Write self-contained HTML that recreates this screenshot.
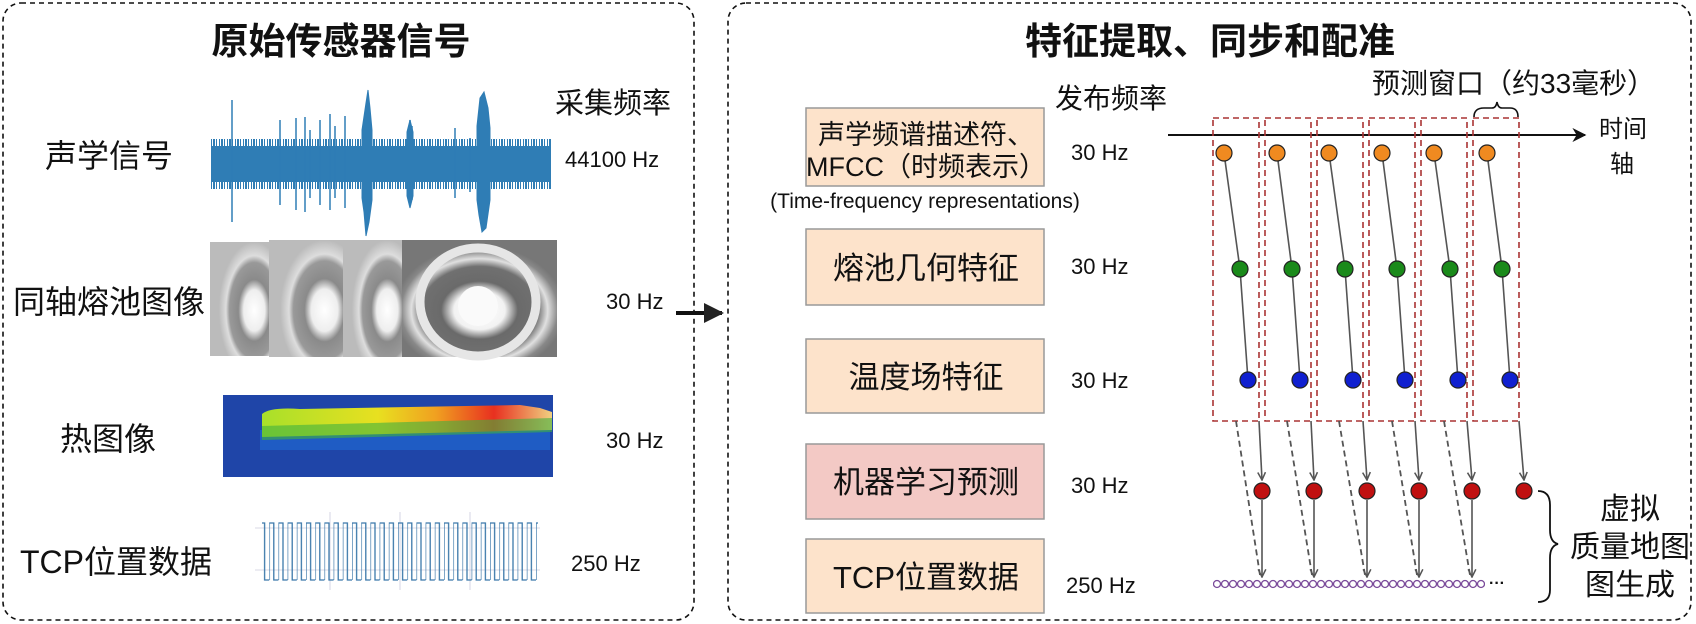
<!DOCTYPE html>
<html><head><meta charset="utf-8"><style>
html,body{margin:0;padding:0;background:#fff;}
svg{display:block;}
text{font-family:"Liberation Sans","Noto Sans CJK SC",sans-serif;fill:#111;}
</style></head><body>
<svg width="1696" height="624" viewBox="0 0 1696 624" xmlns="http://www.w3.org/2000/svg">
<defs>
<marker id="ah" viewBox="0 0 10 10" refX="9" refY="5" markerWidth="7" markerHeight="7" orient="auto"><path d="M0,0 L10,5 L0,10 L3,5 z" fill="#111"/></marker>
<marker id="ag" viewBox="0 0 10 10" refX="9" refY="5" markerWidth="6" markerHeight="6" orient="auto"><path d="M1,1 L9,5 L1,9" fill="none" stroke="#555" stroke-width="1.6"/></marker>
<marker id="ak" viewBox="0 0 10 10" refX="9" refY="5" markerWidth="5" markerHeight="5" orient="auto"><path d="M0,0 L10,5 L0,10 z" fill="#222"/></marker>
<pattern id="sq" x="260" y="515" width="9.2" height="75" patternUnits="userSpaceOnUse">
<path d="M0,65 L0,8 L4.6,8 L4.6,65 L9.2,65" fill="none" stroke="#3b78aa" stroke-width="1.3"/>
</pattern>
<pattern id="ch" x="1213" y="574" width="8" height="20" patternUnits="userSpaceOnUse">
<circle cx="4" cy="10" r="3.5" fill="#fff" stroke="#7a4a9a" stroke-width="1.3"/>
</pattern>
<radialGradient id="mp1" cx="0.75" cy="0.6" r="0.6"><stop offset="0" stop-color="#fff"/><stop offset="0.3" stop-color="#eee"/><stop offset="0.45" stop-color="#8a8a8a"/><stop offset="0.7" stop-color="#999"/><stop offset="0.8" stop-color="#ddd"/><stop offset="1" stop-color="#bbb"/></radialGradient>
<radialGradient id="mp4" cx="0.5" cy="0.6" r="0.55"><stop offset="0" stop-color="#fff"/><stop offset="0.3" stop-color="#f2f2f2"/><stop offset="0.45" stop-color="#6a6a6a"/><stop offset="0.68" stop-color="#707070"/><stop offset="0.8" stop-color="#e0e0e0"/><stop offset="0.92" stop-color="#888"/><stop offset="1" stop-color="#777"/></radialGradient>
<linearGradient id="heat" x1="0" x2="1" y1="0" y2="0"><stop offset="0" stop-color="#a8e02a"/><stop offset="0.4" stop-color="#e8e020"/><stop offset="0.6" stop-color="#f0a020"/><stop offset="0.8" stop-color="#e83020"/><stop offset="1" stop-color="#f0d080"/></linearGradient>
</defs>

<rect x="3" y="3" width="691" height="617" rx="18" fill="none" stroke="#111" stroke-width="1.6" stroke-dasharray="5,4"/>
<rect x="728" y="3" width="963" height="617" rx="18" fill="none" stroke="#111" stroke-width="1.6" stroke-dasharray="5,4"/>
<text x="341" y="54" font-size="37" font-weight="bold" text-anchor="middle">原始传感器信号</text>
<text x="1210" y="54" font-size="37" font-weight="bold" text-anchor="middle">特征提取、同步和配准</text>
<line x1="676" y1="313" x2="722" y2="313" stroke="#111" stroke-width="4" marker-end="url(#ak)"/>

<text x="45" y="167" font-size="32">声学信号</text>
<text x="13" y="313" font-size="32">同轴熔池图像</text>
<text x="60" y="450" font-size="32">热图像</text>
<text x="20" y="573" font-size="32">TCP位置数据</text>
<text x="555" y="113" font-size="29">采集频率</text>
<text x="565" y="167" font-size="22">44100 Hz</text>
<text x="606" y="309" font-size="22">30 Hz</text>
<text x="606" y="448" font-size="22">30 Hz</text>
<text x="571" y="571" font-size="22">250 Hz</text>

<!-- waveform -->
<g fill="#2f7db5" stroke="#2f7db5">
<rect x="211" y="146" width="340" height="36" stroke="none"/>
<path d="M211,143 L551,143 M211,185 L551,185" stroke-width="8" stroke-dasharray="1,1,2,1,1,2"/>
<g stroke-width="1.5">
<line x1="232" y1="100" x2="232" y2="222"/><line x1="280" y1="120" x2="280" y2="205"/><line x1="296" y1="118" x2="296" y2="210"/>
<line x1="305" y1="117" x2="305" y2="212"/><line x1="310" y1="130" x2="310" y2="198"/><line x1="320" y1="120" x2="320" y2="205"/>
<line x1="330" y1="114" x2="330" y2="210"/><line x1="335" y1="126" x2="335" y2="198"/><line x1="345" y1="116" x2="345" y2="208"/>
<line x1="366" y1="110" x2="366" y2="214"/><line x1="410" y1="120" x2="410" y2="205"/><line x1="412" y1="126" x2="412" y2="200"/>
<line x1="455" y1="128" x2="455" y2="198"/><line x1="470" y1="138" x2="470" y2="192"/>
</g>
<path d="M362,130 L366,103 L368,90 L370,108 L372,130 L372,200 L369,222 L366,236 L364,212 L362,198 z"/>
<path d="M407,132 L410,120 L413,132 L413,196 L410,208 L407,196 z"/>
<path d="M477,126 L480,98 L484,92 L488,108 L490,128 L490,200 L486,228 L482,232 L479,215 L477,200 z"/>
</g>

<rect x="210" y="242" width="59" height="114" fill="url(#mp1)"/>
<rect x="269" y="240" width="74" height="117" fill="url(#mp1)"/>
<rect x="343" y="240" width="59" height="117" fill="url(#mp1)"/>
<rect x="402" y="240" width="155" height="117" fill="url(#mp4)"/>
<ellipse cx="478" cy="302" rx="58" ry="54" fill="none" stroke="#e6e6e6" stroke-width="9"/>
<circle cx="478" cy="306" r="20" fill="#fafafa"/>

<rect x="223" y="395" width="330" height="82" fill="#1f45a8"/>
<rect x="260" y="430" width="290" height="20" fill="#1f5cc4"/>
<path d="M262,414 Q270,407 300,409 L520,405 L540,408 L552,412 L552,430 L262,437 z" fill="url(#heat)"/>
<path d="M262,426 L552,418 L552,432 L262,440 z" fill="#40b040" opacity="0.6"/>

<g stroke="#ccd" stroke-width="0.8"><line x1="255" y1="528" x2="540" y2="528"/><line x1="255" y1="570" x2="540" y2="570"/><line x1="330" y1="512" x2="330" y2="590"/><line x1="400" y1="512" x2="400" y2="590"/><line x1="470" y1="512" x2="470" y2="590"/></g>
<rect x="262" y="515" width="276" height="75" fill="url(#sq)"/>

<g stroke="#999" stroke-width="1.5">
<rect x="806" y="108" width="238" height="78" fill="#fde3cb"/>
<rect x="806" y="229" width="238" height="76" fill="#fde3cb"/>
<rect x="806" y="339" width="238" height="74" fill="#fde3cb"/>
<rect x="806" y="444" width="238" height="75" fill="#f3c9c5"/>
<rect x="806" y="539" width="238" height="74" fill="#fde3cb"/>
</g>
<text x="926" y="144" font-size="27" text-anchor="middle">声学频谱描述符、</text>
<text x="926" y="176" font-size="27" text-anchor="middle">MFCC（时频表示）</text>
<text x="925" y="208" font-size="21" text-anchor="middle">(Time-frequency representations)</text>
<text x="926" y="279" font-size="31" text-anchor="middle">熔池几何特征</text>
<text x="926" y="388" font-size="31" text-anchor="middle">温度场特征</text>
<text x="926" y="493" font-size="31" text-anchor="middle">机器学习预测</text>
<text x="926" y="588" font-size="31" text-anchor="middle">TCP位置数据</text>
<text x="1055" y="108" font-size="28">发布频率</text>
<text x="1071" y="160" font-size="22">30 Hz</text>
<text x="1071" y="274" font-size="22">30 Hz</text>
<text x="1071" y="388" font-size="22">30 Hz</text>
<text x="1071" y="493" font-size="22">30 Hz</text>
<text x="1066" y="593" font-size="22">250 Hz</text>

<text x="1372" y="93" font-size="28">预测窗口（约33毫秒）</text>
<path d="M1474,117 Q1474,108 1484,108 L1492,108 Q1496,108 1497,102 Q1498,108 1502,108 L1510,108 Q1518,108 1518,117" fill="none" stroke="#111" stroke-width="1.6"/>
<line x1="1168" y1="135" x2="1585" y2="135" stroke="#111" stroke-width="2" marker-end="url(#ah)"/>
<text x="1599" y="137" font-size="24">时间</text>
<text x="1610" y="172" font-size="24">轴</text>

<g fill="none" stroke="#a33" stroke-width="1.6" stroke-dasharray="6,4">
<rect x="1213" y="118" width="46" height="303"/>
<rect x="1265" y="118" width="46" height="303"/>
<rect x="1317" y="118" width="46" height="303"/>
<rect x="1369" y="118" width="46" height="303"/>
<rect x="1421" y="118" width="46" height="303"/>
<rect x="1473" y="118" width="46" height="303"/>
</g>

<g stroke="#555" stroke-width="1.6" fill="none">
<path d="M1224,153 L1240,269 L1248,380"/><path d="M1277,153 L1292,269 L1300,380"/><path d="M1329,153 L1345,269 L1353,380"/>
<path d="M1382,153 L1397,269 L1405,380"/><path d="M1434,153 L1450,269 L1458,380"/><path d="M1487,153 L1502,269 L1510,380"/>
<line x1="1259" y1="421" x2="1262" y2="480" marker-end="url(#ag)"/><line x1="1311" y1="421" x2="1314" y2="480" marker-end="url(#ag)"/>
<line x1="1363" y1="421" x2="1367" y2="480" marker-end="url(#ag)"/><line x1="1415" y1="421" x2="1419" y2="480" marker-end="url(#ag)"/>
<line x1="1467" y1="421" x2="1472" y2="480" marker-end="url(#ag)"/><line x1="1519" y1="421" x2="1524" y2="480" marker-end="url(#ag)"/>
<line x1="1262" y1="500" x2="1262" y2="577" marker-end="url(#ag)"/><line x1="1314" y1="500" x2="1314" y2="577" marker-end="url(#ag)"/>
<line x1="1367" y1="500" x2="1367" y2="577" marker-end="url(#ag)"/><line x1="1419" y1="500" x2="1419" y2="577" marker-end="url(#ag)"/>
<line x1="1472" y1="500" x2="1472" y2="577" marker-end="url(#ag)"/>
</g>
<g stroke="#555" stroke-width="1.8" stroke-dasharray="6,4" fill="none">
<line x1="1236" y1="421" x2="1260" y2="575"/><line x1="1287" y1="421" x2="1312" y2="575"/><line x1="1339" y1="421" x2="1365" y2="575"/>
<line x1="1392" y1="421" x2="1417" y2="575"/><line x1="1444" y1="421" x2="1470" y2="575"/>
</g>
<g stroke="#222" stroke-width="1.2">
<g fill="#f08a20"><circle cx="1224" cy="153" r="8"/><circle cx="1277" cy="153" r="8"/><circle cx="1329" cy="153" r="8"/><circle cx="1382" cy="153" r="8"/><circle cx="1434" cy="153" r="8"/><circle cx="1487" cy="153" r="8"/></g>
<g fill="#1a8a1a"><circle cx="1240" cy="269" r="8"/><circle cx="1292" cy="269" r="8"/><circle cx="1345" cy="269" r="8"/><circle cx="1397" cy="269" r="8"/><circle cx="1450" cy="269" r="8"/><circle cx="1502" cy="269" r="8"/></g>
<g fill="#1020d0"><circle cx="1248" cy="380" r="8"/><circle cx="1300" cy="380" r="8"/><circle cx="1353" cy="380" r="8"/><circle cx="1405" cy="380" r="8"/><circle cx="1458" cy="380" r="8"/><circle cx="1510" cy="380" r="8"/></g>
<g fill="#c01010"><circle cx="1262" cy="491" r="8"/><circle cx="1314" cy="491" r="8"/><circle cx="1367" cy="491" r="8"/><circle cx="1419" cy="491" r="8"/><circle cx="1472" cy="491" r="8"/><circle cx="1524" cy="491" r="8"/></g>
</g>
<rect x="1213" y="577" width="272" height="14" fill="url(#ch)"/>
<text x="1489" y="588" font-size="16" font-weight="bold">···</text>

<path d="M1538,491 Q1550,491 1550,505 L1550,530 Q1550,542 1558,544 Q1550,546 1550,558 L1550,590 Q1550,602 1538,602" fill="none" stroke="#111" stroke-width="1.8"/>
<text x="1630" y="519" font-size="30" text-anchor="middle">虚拟</text>
<text x="1630" y="557" font-size="30" text-anchor="middle">质量地图</text>
<text x="1630" y="595" font-size="30" text-anchor="middle">图生成</text>
</svg>
</body></html>
